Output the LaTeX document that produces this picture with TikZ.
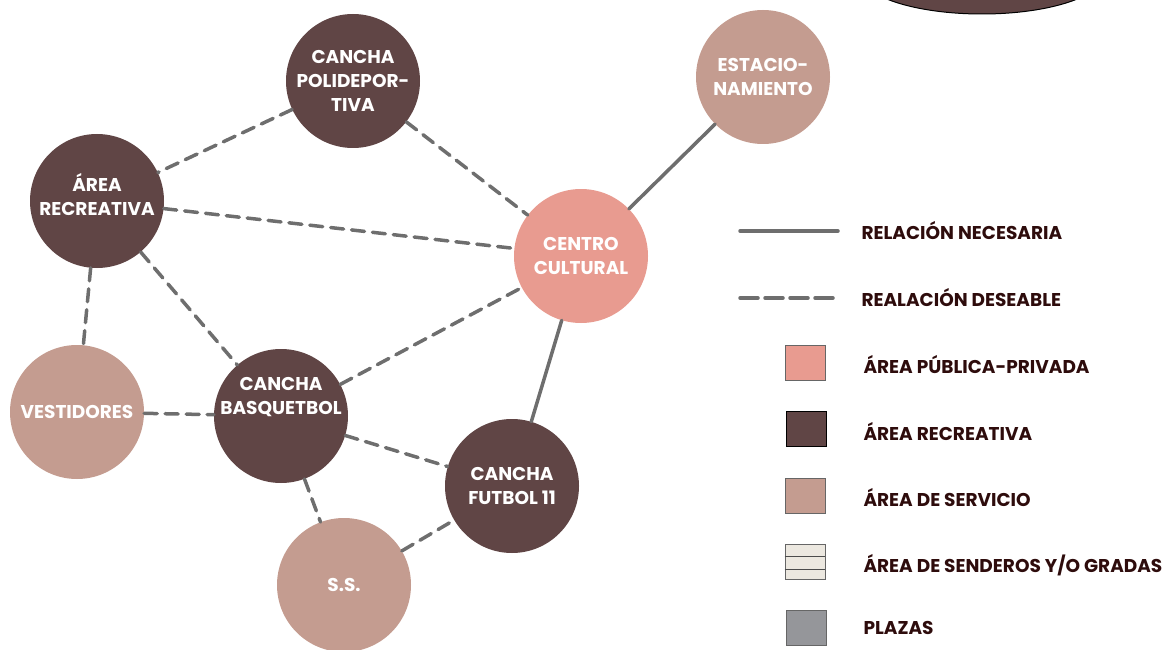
\documentclass[tikz,border=0pt]{standalone}
\usepackage{fontspec}
\setmainfont{Poppins}
\begin{document}
\begin{tikzpicture}[x=1pt,y=-1pt,
  bub/.style={circle,minimum size=134pt,inner sep=0pt,align=center,text=white,font=\bfseries\fontsize{18.5}{24}\selectfont},
  rec/.style={bub,fill=recC},
  pub/.style={bub,fill=pubC},
  ser/.style={bub,fill=serC},
  btext/.style={align=center,text=white,inner sep=0pt,font=\bfseries\fontsize{18.5}{24}\selectfont},
  need/.style={draw=lineC,line width=3.5pt,line cap=round},
  want/.style={need,dash pattern=on 13pt off 8pt},
  lgtext/.style={anchor=west,text=legC,font=\bfseries\fontsize{18.5}{20}\selectfont},
  sq/.style={minimum width=40pt,minimum height=35pt,inner sep=0pt,draw=black!60,line width=0.6pt}
]
\definecolor{recC}{HTML}{604545}
\definecolor{pubC}{HTML}{E89B90}
\definecolor{serC}{HTML}{C49C90}
\definecolor{lineC}{HTML}{6E6E6E}
\definecolor{legC}{HTML}{2E0C0C}
\definecolor{sendC}{HTML}{ECE8E0}
\definecolor{plzC}{HTML}{95969A}
\useasboundingbox (0,0) rectangle (1175,650);
% partial ellipse at top right
\draw[fill=recC,draw=black,line width=1pt] (982,-26) ellipse [x radius=122pt,y radius=40pt];
% nodes
\node[rec] (poli) at (353,81) {CANCHA\\POLIDEPOR-\\TIVA};
\node[ser] (est) at (763,77) {ESTACIO-\\NAMIENTO};
\node[rec] (area) at (97,201) {};
\node[btext] (areaT) at (97,195) {ÁREA\\RECREATIVA};
\node[pub] (cc) at (581,256) {CENTRO\\CULTURAL};
\node[ser] (vest) at (77,412) {VESTIDORES};
\node[rec] (basq) at (281,416) {};
\node[btext] (basqT) at (281,397) {CANCHA\\BASQUETBOL};
\node[rec] (fut) at (512,486) {CANCHA\\FUTBOL 11};
\node[ser] (ss) at (344,585) {S.S.};
% edges
\draw[want] (poli) -- (area);
\draw[want] (poli) -- (cc);
\draw[want] (area) -- (cc);
\draw[want] (area) -- (vest);
\draw[want] (area) -- (basq);
\draw[want] (basq) -- (cc);
\draw[want] (vest) -- (basq);
\draw[want] (basq) -- (fut);
\draw[want] (basq) -- (ss);
\draw[want] (ss) -- (fut);
\draw[need] (fut) -- (cc);
\draw[need] (cc) -- (est);
% legend
\coordinate (l1a) at (740,231); \coordinate (l1b) at (838,231);
\coordinate (l2a) at (740,298); \coordinate (l2b) at (838,298);
\draw[need] (l1a) -- (l1b);
\draw[need,dash pattern=on 18pt off 7pt] (l2a) -- (l2b);
\node[lgtext] (t1) at (858,231) {RELACIÓN NECESARIA};
\node[lgtext] (t2) at (858,298) {REALACIÓN DESEABLE};
\node[sq,fill=pubC] (s1) at (805,363) {};
\node[sq,fill=recC,draw=black] (s2) at (806,429) {};
\node[sq,fill=serC] (s3) at (805,496) {};
\node[sq,fill=sendC] (s4) at (805,562) {};
\draw[black!70,line width=0.6pt] (s4.west |- 0,556) -- (s4.east |- 0,556);
\draw[black!70,line width=0.6pt] (s4.west |- 0,569) -- (s4.east |- 0,569);
\node[sq,fill=plzC] (s5) at (806,628) {};
\node[lgtext] (t3) at (860,365) {ÁREA PÚBLICA-PRIVADA};
\node[lgtext] (t4) at (860,432) {ÁREA RECREATIVA};
\node[lgtext] (t5) at (860,498) {ÁREA DE SERVICIO};
\node[lgtext] (t6) at (860,565) {ÁREA DE SENDEROS Y/O GRADAS};
\node[lgtext] (t7) at (860,628) {PLAZAS};
\end{tikzpicture}
\end{document}
